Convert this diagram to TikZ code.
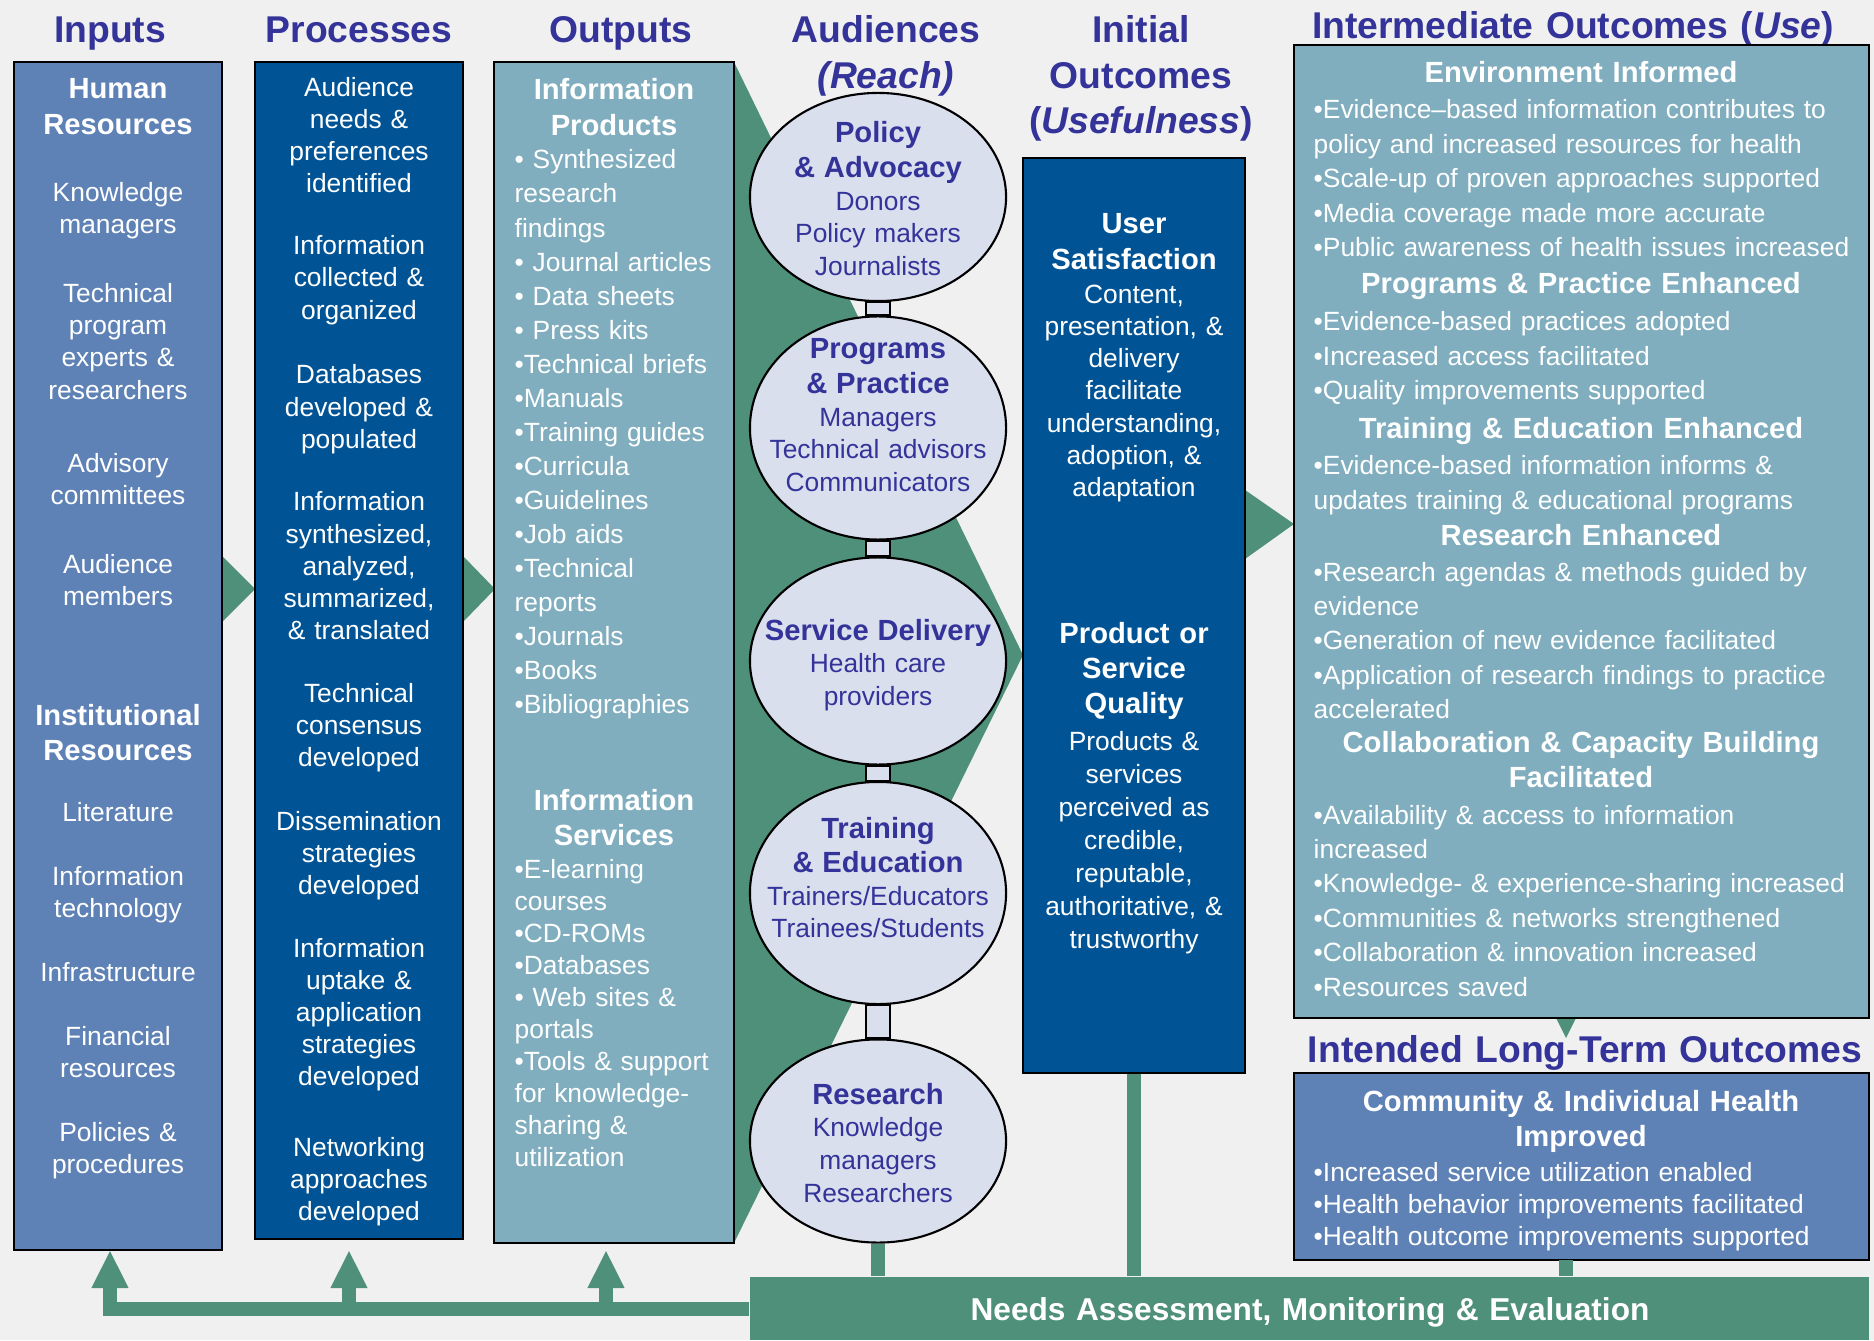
\documentclass[tikz,border=0pt]{standalone}
\usepackage{fontspec}
\setmainfont{Liberation Sans}
\usetikzlibrary{shapes.geometric,arrows.meta,calc}
\definecolor{paperGray}{HTML}{F0F0F0}
\definecolor{inputBlue}{HTML}{5E82B6}
\definecolor{darkBlue}{HTML}{005495}
\definecolor{tealBlue}{HTML}{80AEBF}
\definecolor{flowGreen}{HTML}{4E9079}
\definecolor{reachFill}{HTML}{DADFEE}
\definecolor{titleBlue}{HTML}{333399}
\newcommand{\bodyfont}{\fontsize{7.5}{9.1}\selectfont}
\newcommand{\headfont}{\fontsize{8.3}{10}\selectfont\bfseries}
\newcommand{\titlefont}{\fontsize{10.6}{12.8}\selectfont\bfseries}

\begin{document}
\begin{tikzpicture}[x=0.01cm, y=-0.01cm,
  box/.style={draw=black, line width=0.6pt, inner sep=0pt},
  txt/.style={text=white, font=\bodyfont, align=center, text width=2.05cm, inner sep=0pt, anchor=base},
  hd/.style={txt, font=\headfont},
  lst/.style={txt, align=left, anchor=base west},
  ttl/.style={text=titleBlue, font=\titlefont, align=center, text width=3cm, inner sep=0pt, anchor=base},
  aud/.style={ellipse, draw=black, line width=0.6pt, fill=reachFill, minimum width=2.56cm, inner sep=0pt},
  audtxt/.style={txt, text=titleBlue, font=\fontsize{7.5}{9.3}\selectfont, text width=2.5cm},
  flow/.style={fill=flowGreen},
  fb/.style={draw=flowGreen, line width=0.14cm},
  fbarrow/.style={fb, -{Triangle[width=0.34cm, length=0.38cm]}},
  link/.style={draw=black, line width=0.6pt, fill=reachFill}]
  \useasboundingbox (0,0) rectangle (1874,1340);
  \fill[paperGray] (0,0) rectangle (1874,1340);

  % column titles
  \node[ttl] (t-in) at (110,43) {Inputs};
  \node[ttl] (t-pr) at (359,43) {Processes};
  \node[ttl] (t-out) at (621,43) {Outputs};
  \node[ttl] (t-aud) at (886,43) {Audiences\\\textit{(Reach)}};
  \node[ttl] (t-ini) at (1141,43) {Initial\\Outcomes\\(\textit{Usefulness})};
  \node[ttl, text width=5.7cm] (t-use) at (1573,39) {Intermediate Outcomes (\textit{Use})};
  \node[ttl, text width=5.7cm] (t-long) at (1585,1062) {Intended Long-Term Outcomes};

  % green flow shapes
  \fill[flow] (222,556) -- (255,589) -- (222,622) -- cycle;
  \fill[flow] (463,556) -- (495,589) -- (463,622) -- cycle;
  \fill[flow] (734,62) -- (1023,655) -- (734,1243) -- cycle;
  \fill[flow] (1245,490) -- (1294,524) -- (1245,559) -- cycle;
  \fill[flow] (1556,1018) -- (1566,1038) -- (1576,1018) -- cycle;

  % boxes
  \node[box, fill=inputBlue, minimum width=2.08cm, minimum height=11.88cm] (inputs) at (118,656) {};
  \node[box, fill=darkBlue, minimum width=2.08cm, minimum height=11.77cm] (procs) at (359,650.5) {};
  \node[box, fill=tealBlue, minimum width=2.40cm, minimum height=11.81cm] (outs) at (614,652.5) {};
  \node[box, fill=darkBlue, minimum width=2.22cm, minimum height=9.15cm] (initial) at (1134,615.5) {};
  \node[box, fill=tealBlue, minimum width=5.75cm, minimum height=9.73cm] (inter) at (1581.5,531.5) {};
  \node[box, fill=inputBlue, minimum width=5.75cm, minimum height=1.87cm] (longterm) at (1581.5,1166.5) {};
  \node[fill=flowGreen, minimum width=11.19cm, minimum height=0.63cm, inner sep=0pt] (needs) at (1309.5,1308.5) {};

  % audiences
  \node[aud, minimum height=2.08cm] (aud-pol) at (878,197) {};
  \node[aud, minimum height=2.23cm] (aud-prog) at (878,428) {};
  \node[aud, minimum height=2.07cm] (aud-serv) at (878,661) {};
  \node[aud, minimum height=2.22cm] (aud-train) at (878,893) {};
  \node[aud, minimum height=2.03cm] (aud-res) at (878,1141) {};
  \foreach \a/\b in {pol/prog, prog/serv, serv/train, train/res}
    \draw[link] ($(aud-\a.south)+(-12,0)$) rectangle ($(aud-\b.north)+(12,0)$);

  % feedback loop
  \coordinate (fb-in) at (110,1250);
  \coordinate (fb-pr) at (349,1250);
  \coordinate (fb-out) at (606,1250);
  \coordinate (lt-foot) at (1566,1260);
  \draw[fbarrow] (needs.west) -| (fb-in);
  \draw[fbarrow] (fb-pr |- needs.west) -- (fb-pr);
  \draw[fbarrow] (fb-out |- needs.west) -- (fb-out);
  \draw[fb] (aud-res.south) -- (aud-res.south |- needs.north);
  \draw[fb] (initial.south) -- (initial.south |- needs.north);
  \draw[fb] (lt-foot) -- (lt-foot |- needs.north);
  \node[hd, font=\fontsize{9}{11}\selectfont\bfseries, text width=10cm] (needs-t) at (1310,1320) {Needs Assessment, Monitoring \& Evaluation};

  % inputs text
  \node[hd] (in-h1) at (118,99) {Human\\Resources};
  \foreach \yy/\txt [count=\k] in {202/{Knowledge\\managers}, 303/{Technical\\program\\experts \&\\researchers}, 472/{Advisory\\committees}, 573/{Audience\\members}}
    \node[txt] (in-a\k) at (118,\yy) {\txt};
  \node[hd] (in-h2) at (118,725) {Institutional\\Resources};
  \foreach \yy/\txt [count=\k] in {821/Literature, 885/{Information\\technology}, 981/Infrastructure, 1045/{Financial\\resources}, 1141/{Policies \&\\procedures}}
    \node[txt] (in-b\k) at (118,\yy) {\txt};

  % processes text
  \foreach \yy/\txt [count=\k] in {97/{Audience\\needs \&\\preferences\\identified}, 255/{Information\\collected \&\\organized}, 384/{Databases\\developed \&\\populated}, 511/{Information\\synthesized,\\analyzed,\\summarized,\\\& translated}, 702/{Technical\\consensus\\developed}, 830/{Dissemination\\strategies\\developed}, 957/{Information\\uptake \&\\application\\strategies\\developed}, 1156/{Networking\\approaches\\developed}}
    \node[txt] (pr\k) at (359,\yy) {\txt};

  % outputs text
  \node[hd, text width=2.3cm] (out-h1) at (614,100) {Information\\Products};
  \node[lst, text width=2.2cm, font=\fontsize{7.5}{9.67}\selectfont] (out-l1) at (514,169) {• Synthesized\\research\\findings\\• Journal articles\\• Data sheets\\• Press kits\\•Technical briefs\\•Manuals\\•Training guides\\•Curricula\\•Guidelines\\•Job aids\\•Technical\\reports\\•Journals\\•Books\\•Bibliographies};
  \node[hd, text width=2.3cm] (out-h2) at (614,810) {Information\\Services};
  \node[lst, text width=2.2cm] (out-l2) at (514,878) {•E-learning\\courses\\•CD-ROMs\\•Databases\\• Web sites \&\\portals\\•Tools \& support\\for knowledge-\\sharing \&\\utilization};

  % audiences text
  \node[audtxt] (pol-t) at (878,143) {{\headfont Policy}\\[0.5pt]{\headfont \& Advocacy}\\Donors\\Policy makers\\Journalists};
  \node[audtxt] (prog-t) at (878,359) {{\headfont Programs}\\[0.5pt]{\headfont \& Practice}\\Managers\\Technical advisors\\Communicators};
  \node[audtxt] (serv-t) at (878,640) {{\headfont Service Delivery}\\Health care\\providers};
  \node[audtxt] (train-t) at (878,838) {{\headfont Training}\\[0.5pt]{\headfont \& Education}\\Trainers/Educators\\Trainees/Students};
  \node[audtxt] (res-t) at (878,1104) {{\headfont Research}\\Knowledge\\managers\\Researchers};

  % initial outcomes text
  \node[hd] (ini-h1) at (1134,234) {User\\Satisfaction};
  \node[txt, text width=2.1cm] (ini-b1) at (1134,304) {Content,\\presentation, \&\\delivery\\facilitate\\understanding,\\adoption, \&\\adaptation};
  \node[hd] (ini-h2) at (1134,643) {Product or\\Service\\Quality};
  \node[txt, text width=2.1cm, font=\fontsize{7.5}{9.4}\selectfont] (ini-b2) at (1134,750) {Products \&\\services\\perceived as\\credible,\\reputable,\\authoritative, \&\\trustworthy};

  % intermediate outcomes text
  \tikzset{uselst/.style={lst, text width=5.5cm, font=\fontsize{7.5}{9.8}\selectfont}}
  \node[hd, text width=5.5cm] (use-h1) at (1581,83) {Environment Informed};
  \node[uselst] (use-l1) at (1313,119) {•Evidence–based information contributes to\\policy and increased resources for health\\•Scale-up of proven approaches supported\\•Media coverage made more accurate\\•Public awareness of health issues increased};
  \node[hd, text width=5.5cm] (use-h2) at (1581,294) {Programs \& Practice Enhanced};
  \node[uselst] (use-l2) at (1313,331) {•Evidence-based practices adopted\\•Increased access facilitated\\•Quality improvements supported};
  \node[hd, text width=5.5cm] (use-h3) at (1581,439) {Training \& Education Enhanced};
  \node[uselst] (use-l3) at (1313,475) {•Evidence-based information informs \&\\updates training \& educational programs};
  \node[hd, text width=5.5cm] (use-h4) at (1581,545) {Research Enhanced};
  \node[uselst] (use-l4) at (1313,581) {•Research agendas \& methods guided by\\evidence\\•Generation of new evidence facilitated\\•Application of research findings to practice\\accelerated};
  \node[hd, text width=5.5cm] (use-h5) at (1581,752) {Collaboration \& Capacity Building\\Facilitated};
  \node[uselst] (use-l5) at (1313,824) {•Availability \& access to information\\increased\\•Knowledge- \& experience-sharing increased\\•Communities \& networks strengthened\\•Collaboration \& innovation increased\\•Resources saved};

  % long-term outcomes text
  \node[hd, text width=5.5cm] (lt-h) at (1581,1111) {Community \& Individual Health\\Improved};
  \node[lst, text width=5.5cm] (lt-l) at (1313,1181) {•Increased service utilization enabled\\•Health behavior improvements facilitated\\•Health outcome improvements supported};
\end{tikzpicture}
\end{document}
